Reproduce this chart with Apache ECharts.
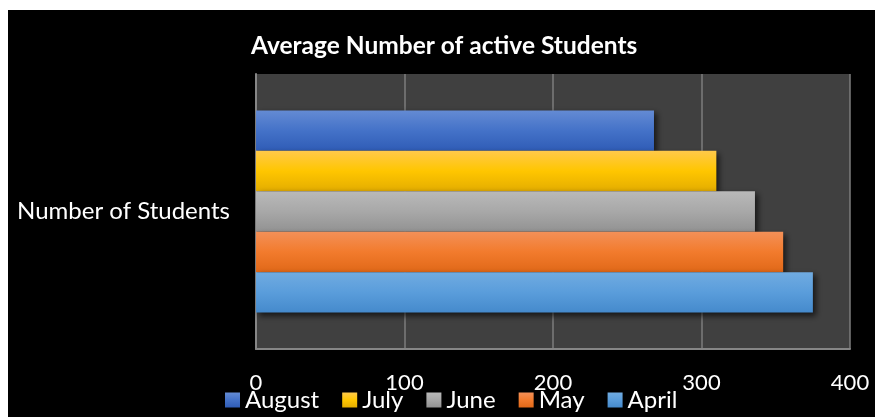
<!DOCTYPE html>
<html>
<head>
<meta charset="utf-8">
<script src="https://cdn.jsdelivr.net/npm/echarts@6/dist/echarts.min.js"></script>
<style>
  html, body { margin: 0; padding: 0; background: #ffffff; width: 875px; height: 417px; overflow: hidden; }
  #chart { position: absolute; left: 8px; top: 10px; width: 867px; height: 407px; }
</style>
</head>
<body>
<div id="chart"></div>
<script>
// Average active students per month, one horizontal bar per month
const categories = ['Number of Students'];
const months = ['August', 'July', 'June', 'May', 'April'];
const students = [268, 310, 336, 355, 375];
const xTicks = [0, 100, 200, 300, 400];

// vertical gradients: light top, deeper bottom
const palette = {
  August: ['#648bd4', '#4472c8', '#2f5cb6'],
  July:   ['#ffc94a', '#ffc600', '#e4ad00'],
  June:   ['#b9b9b9', '#a8a8a8', '#929292'],
  May:    ['#f39058', '#f27b2d', '#e16818'],
  April:  ['#70abe1', '#5a9ddb', '#458acc']
};

const FONT = 'Lato';

function grad(c) {
  return new echarts.graphic.LinearGradient(0, 0, 0, 1, [
    { offset: 0, color: c[0] },
    { offset: 0.5, color: c[1] },
    { offset: 1, color: c[2] }
  ]);
}

const series = months.map((m, i) => ({
  name: m,
  type: 'bar',
  data: [students[i]],
  barGap: '0%',
  barCategoryGap: '26.5%',
  itemStyle: {
    color: grad(palette[m]),
    shadowColor: 'rgba(0,0,0,0.65)',
    shadowBlur: 6,
    shadowOffsetX: 3,
    shadowOffsetY: 3
  }
}));

const chart = echarts.init(document.getElementById('chart'));
chart.setOption({
  backgroundColor: '#000000',
  animation: false,
  title: {
    text: 'Average Number of active Students',
    left: 243,
    top: 24,
    padding: 0,
    textStyle: { color: '#ffffff', fontFamily: FONT, fontWeight: 'bold', fontSize: 24.5, lineHeight: 25 }
  },
  legend: {
    data: months,
    left: 217,
    top: 378,
    padding: 0,
    itemWidth: 15,
    itemHeight: 15,
    itemGap: 23,
    icon: 'rect',
    textStyle: { color: '#ffffff', fontFamily: FONT, fontSize: 24, lineHeight: 24 }
  },
  grid: {
    left: 248,
    right: 25,
    top: 64,
    bottom: 68,
    show: true,
    backgroundColor: '#404040',
    borderWidth: 0,
    containLabel: false
  },
  xAxis: {
    type: 'value',
    min: xTicks[0],
    max: xTicks[xTicks.length - 1],
    interval: 100,
    axisLine: { show: true, lineStyle: { color: '#868686', width: 2 } },
    axisTick: { show: false },
    splitLine: { show: true, lineStyle: { color: '#7c7c7c', width: 1.5 } },
    axisLabel: {
      color: '#ffffff',
      fontFamily: FONT,
      fontSize: 22,
      lineHeight: 22,
      margin: 23,
      formatter: v => String(v)
    }
  },
  yAxis: {
    type: 'category',
    data: categories,
    axisLine: { show: true, lineStyle: { color: '#868686', width: 2 } },
    axisTick: { show: false },
    axisLabel: { color: '#ffffff', fontFamily: FONT, fontSize: 24, margin: 26 }
  },
  series: series
});
</script>
</body>
</html>
